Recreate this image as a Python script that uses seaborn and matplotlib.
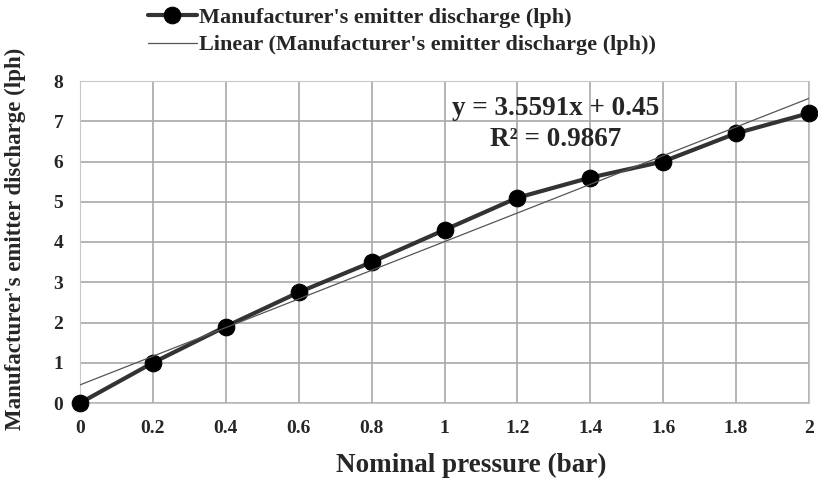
import seaborn as sns
import matplotlib.pyplot as plt
import numpy as np
import pandas as pd

# data
pressure = [0, 0.2, 0.4, 0.6, 0.8, 1.0, 1.2, 1.4, 1.6, 1.8, 2.0]
discharge = [0, 1.0, 1.9, 2.75, 3.5, 4.3, 5.1, 5.6, 6.0, 6.7, 7.2]
x_ticks = [0, 0.2, 0.4, 0.6, 0.8, 1, 1.2, 1.4, 1.6, 1.8, 2]
x_tick_labels = ['0', '0.2', '0.4', '0.6', '0.8', '1', '1.2', '1.4', '1.6', '1.8', '2']
y_ticks = [0, 1, 2, 3, 4, 5, 6, 7, 8]
slope = 3.5591
intercept = 0.45

series_name = "Manufacturer's emitter discharge (lph)"
trend_name = "Linear (Manufacturer's emitter discharge (lph))"

sns.set_style('white')
plt.rcParams['font.family'] = ['Liberation Serif', 'DejaVu Serif']
plt.rcParams['font.weight'] = 'bold'

df = pd.DataFrame({'x': pressure, 'y': discharge})
trend = pd.DataFrame({'x': pressure, 'y': [slope * v + intercept for v in pressure]})

fig = plt.figure(figsize=(8.18, 4.87), dpi=100)
ax = fig.add_axes([80 / 818, 1 - 403 / 487, 729 / 818, 322 / 487])

sns.lineplot(data=df, x='x', y='y', ax=ax, color='#333333', linewidth=3,
             marker='o', markersize=12, markerfacecolor='black',
             markeredgecolor='black', label=series_name, zorder=3, clip_on=False)
sns.lineplot(data=trend, x='x', y='y', ax=ax, color='#555555', linewidth=0.9,
             label=trend_name, zorder=4)

ax.set_xlim(0, 2)
ax.set_ylim(0, 8)
ax.set_xticks(x_ticks)
ax.set_xticklabels(x_tick_labels)
ax.set_yticks(y_ticks)
ax.grid(True, color='#a8a8a8', linewidth=1.2)
ax.set_axisbelow(True)
for s in ax.spines.values():
    s.set_color('#c8c8c8')
ax.tick_params(axis='both', labelsize=14, length=0)
ax.tick_params(axis='x', pad=12)
ax.tick_params(axis='y', pad=12)
for lab in ax.get_xticklabels() + ax.get_yticklabels():
    lab.set_fontweight('bold')

ax.set_xlabel('Nominal pressure (bar)', fontsize=19.5, fontweight='bold', va='center')
ax.xaxis.set_label_coords(0.537, -0.195)
ax.set_ylabel(series_name, fontsize=16.5, fontweight='bold', va='center')
ax.yaxis.set_label_coords(-0.088, 0.51)

ax.text(1.305, 7.31, 'y = 3.5591x + 0.45', fontsize=19.5, fontweight='bold',
        ha='center', va='center')
ax.text(1.305, 6.55, 'R² = 0.9867', fontsize=19.5, fontweight='bold',
        ha='center', va='center')

leg = ax.legend(loc='upper left', bbox_to_anchor=(148 / 818, 1 - 7 / 487),
                bbox_transform=fig.transFigure, frameon=False,
                fontsize=16, handlelength=2.2, handletextpad=0.1, borderpad=0,
                borderaxespad=0, labelspacing=0.33)
for t in leg.get_texts():
    t.set_fontweight('bold')

fig.savefig('out.png', dpi=100)
